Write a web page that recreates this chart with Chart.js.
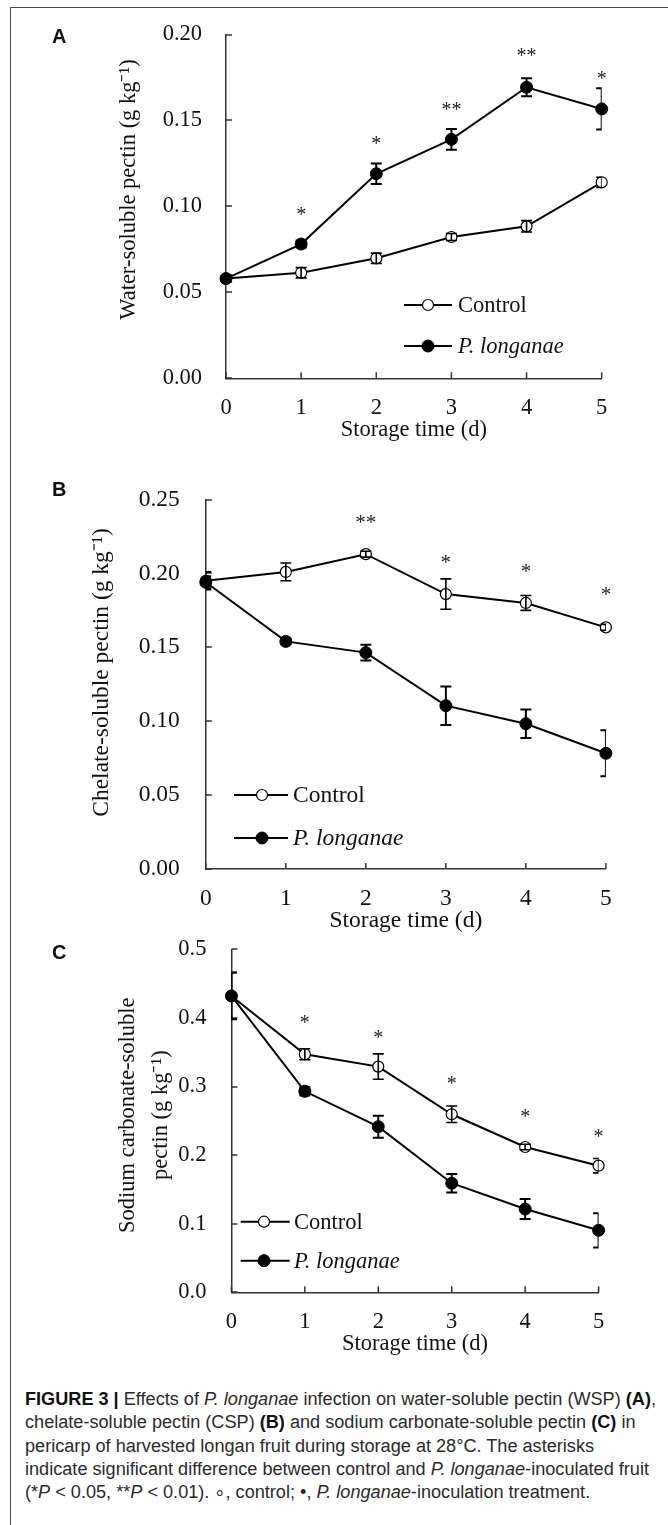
<!DOCTYPE html>
<html>
<head>
<meta charset="utf-8">
<script src="https://cdn.jsdelivr.net/npm/chart.js@4.4.1/dist/chart.umd.min.js"></script>
<style>
html,body{margin:0;padding:0;background:#fff;}
body{width:668px;height:1525px;position:relative;overflow:hidden;}
#frame{position:absolute;left:10px;top:7px;width:700px;height:1600px;border-left:1.5px solid #4a4a4a;border-top:1.5px solid #4a4a4a;}
canvas{position:absolute;left:0;}
.plabel{position:absolute;font-family:"Liberation Sans",Arial,sans-serif;font-weight:bold;font-size:20px;line-height:20px;color:#111;}
#caption{position:absolute;left:25px;top:1388px;font-family:"Liberation Sans",Arial,sans-serif;font-size:18px;line-height:23.3px;color:#2a2a2a;white-space:nowrap;transform-origin:0 0;}
#caption b{color:#111;}
</style>
</head>
<body>
<div id="frame"></div>
<canvas id="cA" width="668" height="460" style="top:0px"></canvas>
<canvas id="cB" width="668" height="490" style="top:460px"></canvas>
<canvas id="cC" width="668" height="440" style="top:930px"></canvas>
<div class="plabel" style="left:52px;top:26px">A</div>
<div class="plabel" style="left:52px;top:479px">B</div>
<div class="plabel" style="left:52px;top:942px">C</div>
<div id="caption"><div><span id="cl1"><b>FIGURE 3 |</b> Effects of <i>P. longanae</i> infection on water-soluble pectin (WSP) <b>(A)</b>,</span></div><div>chelate-soluble pectin (CSP) <b>(B)</b> and sodium carbonate-soluble pectin <b>(C)</b> in</div><div>pericarp of harvested longan fruit during storage at 28°C. The asterisks</div><div>indicate significant difference between control and <i>P. longanae</i>-inoculated fruit</div><div>(*<i>P</i> &lt; 0.05, **<i>P</i> &lt; 0.01). ∘, control; •, <i>P. longanae</i>-inoculation treatment.</div></div>
<script>
// ---------- DATA ----------
const days = ['0', '1', '2', '3', '4', '5'];
const seriesNames = ['Control', 'P. longanae'];

// Panel A: water-soluble pectin
const wspControl     = [0.058, 0.0614, 0.0698, 0.0822, 0.0884, 0.114];
const wspControlErr  = [0.002, 0.003, 0.003, 0.002, 0.0033, 0.003];
const wspLonganae    = [0.058, 0.0781, 0.119, 0.139, 0.1693, 0.1567];
const wspLonganaeErr = [0.002, 0.002, 0.006, 0.006, 0.0052, 0.012];
const wspSig         = ['', '*', '*', '**', '**', '*'];
const wspSigPos      = [null, 0.0967, 0.138, 0.158, 0.189, 0.176];
const wspTicks       = [0, 0.05, 0.10, 0.15, 0.20];
const wspTickLabels  = ['0.00', '0.05', '0.10', '0.15', '0.20'];

// Panel B: chelate-soluble pectin
const cspControl     = [0.195, 0.201, 0.213, 0.186, 0.180, 0.1635];
const cspControlErr  = [0.006, 0.006, 0.002, 0.0103, 0.005, 0.002];
const cspLonganae    = [0.194, 0.154, 0.1464, 0.1105, 0.0983, 0.0783];
const cspLonganaeErr = [0.004, 0.002, 0.0053, 0.013, 0.0097, 0.0155];
const cspSig         = ['', '', '**', '*', '*', '*'];
const cspSigPos      = [null, null, 0.236, 0.209, 0.203, 0.1876];
const cspTicks       = [0, 0.05, 0.10, 0.15, 0.20, 0.25];
const cspTickLabels  = ['0.00', '0.05', '0.10', '0.15', '0.20', '0.25'];

// Panel C: sodium carbonate-soluble pectin
const scspControl     = [0.432, 0.347, 0.329, 0.2595, 0.2118, 0.1846];
const scspControlErr  = [0.034, 0.008, 0.0185, 0.012, 0.004, 0.0105];
const scspLonganae    = [0.432, 0.293, 0.2414, 0.159, 0.1214, 0.0904];
const scspLonganaeErr = [0.034, 0.006, 0.016, 0.0134, 0.0146, 0.025];
const scspSig         = ['', '*', '*', '*', '*', '*'];
const scspSigPos      = [null, 0.397, 0.375, 0.308, 0.2595, 0.2307];
const scspTicks       = [0, 0.1, 0.2, 0.3, 0.4, 0.5];
const scspTickLabels  = ['0.0', '0.1', '0.2', '0.3', '0.4', '0.5'];

// ---------- STYLE ----------
const SERIF = '"Liberation Serif","Times New Roman",serif';

const decor = {
  id: 'decor',
  beforeDatasetsDraw(chart) {
    const ctx = chart.ctx, xs = chart.scales.x, ys = chart.scales.y, ca = chart.chartArea;
    ctx.save();
    ctx.strokeStyle = '#333'; ctx.lineWidth = 1.5;
    ctx.beginPath();
    ys.ticks.forEach(t => { const y = Math.round(ys.getPixelForValue(t.value)); ctx.moveTo(ca.left, y); ctx.lineTo(ca.left + 6, y); });
    chart.data.labels.forEach((l, i) => { const x = xs.getPixelForValue(i); ctx.moveTo(x, ca.bottom); ctx.lineTo(x, ca.bottom - 6); });
    ctx.stroke();
    ctx.restore();
  },
  afterDatasetsDraw(chart, args, o) {
    const ctx = chart.ctx, xs = chart.scales.x, ys = chart.scales.y, ca = chart.chartArea;
    // error bars (clipped horizontally to the plot area)
    ctx.save();
    ctx.beginPath(); ctx.rect(ca.left, 0, ca.right - ca.left, chart.height); ctx.clip();
    chart.data.datasets.forEach(ds => {
      ctx.strokeStyle = '#000'; ctx.lineWidth = ds.errWidth;
      ds.data.forEach((v, i) => {
        const e = ds.errors[i];
        const x = xs.getPixelForValue(i), y1 = ys.getPixelForValue(v + e), y2 = ys.getPixelForValue(v - e);
        const c = 5.5;
        ctx.beginPath();
        ctx.moveTo(x, y1); ctx.lineTo(x, y2);
        ctx.moveTo(x - c, y1); ctx.lineTo(x + c, y1);
        ctx.moveTo(x - c, y2); ctx.lineTo(x + c, y2);
        ctx.stroke();
      });
    });
    ctx.restore();
    // significance asterisks
    ctx.save();
    ctx.fillStyle = '#222'; ctx.font = o.sigSize + 'px ' + SERIF; ctx.textAlign = 'center'; ctx.textBaseline = 'middle';
    o.sig.forEach((s, i) => {
      if (!s) return;
      ctx.fillText(s, xs.getPixelForValue(i), ys.getPixelForValue(o.sigPos[i]) + 0.18 * o.sigSize);
    });
    ctx.restore();
    // legend
    const L = o.legend;
    ctx.save();
    [0, 1].forEach(k => {
      const ds = chart.data.datasets.find(d => d.key === k);
      const y = L.y[k];
      ctx.strokeStyle = '#000'; ctx.lineWidth = 2;
      ctx.beginPath(); ctx.moveTo(L.x1, y); ctx.lineTo(L.x2, y); ctx.stroke();
      ctx.beginPath(); ctx.arc(L.mx, y, ds.pointRadius, 0, Math.PI * 2);
      ctx.fillStyle = ds.pointBackgroundColor; ctx.fill();
      ctx.lineWidth = ds.pointBorderWidth; ctx.strokeStyle = ds.pointBorderColor; ctx.stroke();
      ctx.fillStyle = '#111'; ctx.textAlign = 'left'; ctx.textBaseline = 'middle';
      ctx.font = (ds.legendItalic ? 'italic ' : '') + L.fs + 'px ' + SERIF;
      ctx.fillText(ds.label, L.tx, y + 1);
    });
    ctx.restore();
  }
};

function makePanel(id, p) {
  const ctx = document.getElementById(id).getContext('2d');
  const zero = s => { s.paddingLeft = 0; s.paddingRight = 0; s.paddingTop = 0; s.paddingBottom = 0; };
  return new Chart(ctx, {
    type: 'line',
    data: {
      labels: days,
      datasets: [
        { key: 1, label: seriesNames[1], legendItalic: true, data: p.pData, errors: p.pErr, errWidth: 2,
          borderColor: '#000', borderWidth: 2, tension: 0, clip: false, order: 0,
          pointRadius: 6, pointBackgroundColor: '#000', pointBorderColor: '#000', pointBorderWidth: 1 },
        { key: 0, label: seriesNames[0], legendItalic: false, data: p.cData, errors: p.cErr, errWidth: 1.6,
          borderColor: '#000', borderWidth: 2, tension: 0, clip: false, order: 1,
          pointRadius: 5.5, pointBackgroundColor: '#fff', pointBorderColor: '#000', pointBorderWidth: 1.2 }
      ]
    },
    options: {
      responsive: false, animation: false, events: [],
      layout: { padding: p.pad },
      plugins: {
        legend: { display: false }, tooltip: { enabled: false },
        decor: { sig: p.sig, sigPos: p.sigPos, sigSize: p.sigSize, legend: p.legend }
      },
      scales: {
        x: {
          type: 'category', offset: false,
          grid: { display: false, drawTicks: false },
          border: { display: true, color: '#333', width: 1.5 },
          ticks: { color: '#111', font: { family: SERIF, size: p.fs }, padding: 16, maxRotation: 0, autoSkip: false },
          title: { display: true, text: 'Storage time (d)', color: '#111', font: { family: SERIF, size: p.fs, lineHeight: 1.2 }, padding: 0 },
          afterFit(s) { s.height = p.xh; zero(s); }
        },
        y: {
          min: p.ticks[0], max: p.ticks[p.ticks.length - 1],
          afterBuildTicks(s) { s.ticks = p.ticks.map(v => ({ value: v })); },
          grid: { display: false, drawTicks: false },
          border: { display: true, color: '#333', width: 1.5 },
          ticks: { color: '#111', font: { family: SERIF, size: p.fs }, padding: p.tickPad,
                   callback: (v, i) => p.tickLabels[i] },
          title: { display: true, text: p.yTitle, color: '#111', font: { family: SERIF, size: p.fs, lineHeight: p.yLH }, padding: 0 },
          afterFit(s) { s.width = p.yw; zero(s); }
        }
      }
    },
    plugins: [decor]
  });
}

makePanel('cA', {
  cData: wspControl, cErr: wspControlErr, pData: wspLonganae, pErr: wspLonganaeErr,
  sig: wspSig, sigPos: wspSigPos, sigSize: 20, ticks: wspTicks, tickLabels: wspTickLabels,
  fs: 22.5, tickPad: 24,
  yTitle: '\u2003\u2002Water-soluble pectin (g kg⁻¹)', yLH: 1.2,
  pad: { left: 116, right: 66.3, top: 34.5, bottom: 16.4 }, yw: 110, xh: 65.3,
  legend: { x1: 404, x2: 452, mx: 428, tx: 458, y: [305, 346], fs: 22.5 }
});
makePanel('cB', {
  cData: cspControl, cErr: cspControlErr, pData: cspLonganae, pErr: cspLonganaeErr,
  sig: cspSig, sigPos: cspSigPos, sigSize: 21, ticks: cspTicks, tickLabels: cspTickLabels,
  fs: 23.5, tickPad: 26,
  yTitle: '\u2003Chelate-soluble pectin (g kg⁻¹)', yLH: 1.2,
  pad: { left: 88, right: 62.1, top: 39.5, bottom: 15.4 }, yw: 117.8, xh: 65.6,
  legend: { x1: 234, x2: 288, mx: 262, tx: 293, y: [335, 378], fs: 23.5 }
});
makePanel('cC', {
  cData: scspControl, cErr: scspControlErr, pData: scspLonganae, pErr: scspLonganaeErr,
  sig: scspSig, sigPos: scspSigPos, sigSize: 20, ticks: scspTicks, tickLabels: scspTickLabels,
  fs: 22.5, tickPad: 25,
  yTitle: ['\u2002Sodium carbonate-soluble', '\u2002pectin (g kg⁻¹)'], yLH: 1.45,
  pad: { left: 111.7, right: 69.4, top: 19.3, bottom: 12.4 }, yw: 119.7, xh: 65.3,
  legend: { x1: 240.7, x2: 289.7, mx: 264, tx: 294, y: [291.7, 330.7], fs: 22.5 }
});

// fit caption width to the reference (first line spans ~631px)
(function () {
  const cap = document.getElementById('caption');
  const w = document.getElementById('cl1').getBoundingClientRect().width;
  cap.style.transform = 'scaleX(' + (631 / w) + ')';
})();
</script>
</body>
</html>
